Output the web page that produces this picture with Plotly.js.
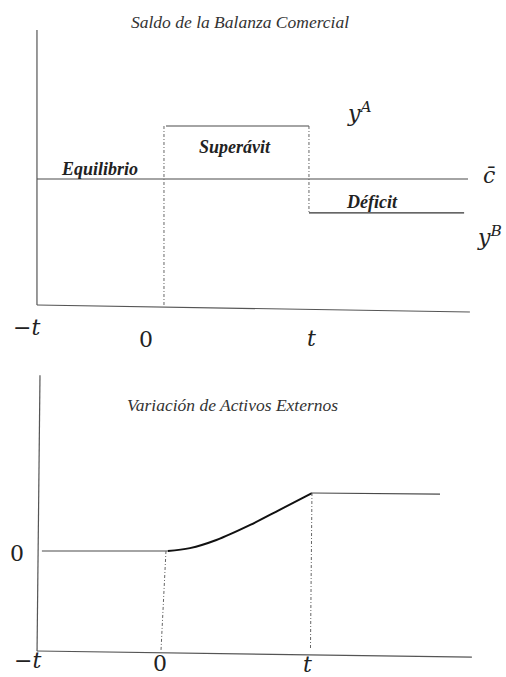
<!DOCTYPE html>
<html>
<head>
<meta charset="utf-8">
<script src="https://cdn.plot.ly/plotly-3.0.1.min.js"></script>
<style>html,body{margin:0;padding:0;background:#fff;}#chart{width:506px;height:677px;}</style>
</head>
<body>
<div id="chart"></div>
<script>
// ---- Data (time units: 0 = shock, 1 = t) ----
// Top chart: Saldo de la Balanza Comercial (c̄ = 0, y^A = 1)
var topAxisVX = [-0.876, -0.876];
var topAxisVY = [2.81, -2.377];
var topAxisHX = [-0.876, 2.11];
var topAxisHY = [-2.377, -2.509];
var cbarX = [-0.876, 2.097];
var cbarY = [0, 0];
var superavitX = [0.014, 1.0];
var superavitY = [1, 1];
var deficitX = [1.0, 2.07];
var deficitY = [-0.64, -0.64];
var dot0TopX = [0, 0];
var dot0TopY = [1, -2.377];
var dotTTopX = [1, 1];
var dotTTopY = [1, -0.64];

// Bottom chart: Variación de Activos Externos (0 before, 1 after t)
var botAxisVX = [-0.85, -0.87];
var botAxisVY = [3.03, -1.724];
var botAxisHX = [-0.871, 2.088];
var botAxisHY = [-1.724, -1.828];
var zeroX = [-0.837, 0.02];
var zeroY = [0, 0];
var curveX = [0.02, 0.17, 0.35, 0.58, 0.78, 1.0];
var curveY = [0, 0.05, 0.19, 0.45, 0.71, 1.0];
var plateauX = [1.0, 1.871];
var plateauY = [1.0, 0.98];
var dot0BotX = [0.007, -0.027];
var dot0BotY = [0, -1.724];
var dotTBotX = [1.0, 0.99];
var dotTBotY = [1.0, -1.69];

var axisColor = '#555';
var lineColor = '#4a4a4a';
var dotColor = '#666';

function seg(x, y, xa, ya, color, width, dash) {
  return {x: x, y: y, xaxis: xa, yaxis: ya, mode: 'lines', type: 'scatter',
    line: {color: color, width: width, dash: dash || 'solid'}, hoverinfo: 'skip', showlegend: false};
}

var traces = [
  seg(topAxisVX, topAxisVY, 'x', 'y', axisColor, 1.2),
  seg(topAxisHX, topAxisHY, 'x', 'y', axisColor, 1.2),
  seg(cbarX, cbarY, 'x', 'y', lineColor, 1.2),
  seg(superavitX, superavitY, 'x', 'y', lineColor, 1.2),
  seg(deficitX, deficitY, 'x', 'y', '#333', 1.2),
  seg(dot0TopX, dot0TopY, 'x', 'y', dotColor, 1, '3px,2px,1px,2px'),
  seg(dotTTopX, dotTTopY, 'x', 'y', dotColor, 1, '3px,2px,1px,2px'),
  seg(botAxisVX, botAxisVY, 'x2', 'y2', axisColor, 1.2),
  seg(botAxisHX, botAxisHY, 'x2', 'y2', axisColor, 1.2),
  seg(zeroX, zeroY, 'x2', 'y2', lineColor, 1.2),
  Object.assign(seg(curveX, curveY, 'x2', 'y2', '#111', 2), {line: {color: '#111', width: 2, shape: 'spline', smoothing: 1}}),
  seg(plateauX, plateauY, 'x2', 'y2', lineColor, 1.2),
  seg(dot0BotX, dot0BotY, 'x2', 'y2', dotColor, 1, '3px,2px,1px,2px'),
  seg(dotTBotX, dotTBotY, 'x2', 'y2', dotColor, 1, '3px,2px,1px,2px')
];

var W = 506, H = 677;
function ann(text, px, py, font) {
  return {text: text, x: px / W, y: 1 - py / H, xref: 'paper', yref: 'paper',
    xanchor: 'center', yanchor: 'middle', showarrow: false, font: font};
}
var titleFont = {family: 'Liberation Serif', size: 17.5, color: '#333', style: 'italic'};
var labelFont = {family: 'Liberation Serif', size: 18, color: '#222', weight: 'bold', style: 'italic'};
var mathFont = {family: 'DejaVu Serif', size: 22, color: '#222'};

var annotations = [
  ann('Saldo de la Balanza Comercial', 240, 22, titleFont),
  ann('Equilibrio', 99, 169, labelFont),
  ann('Superávit', 235, 147, labelFont),
  ann('Déficit', 372, 202, labelFont),
  ann('<i>y</i><sup><i>A</i></sup>', 359, 112, mathFont),
  ann('<i>c\u0304</i>', 489, 176, mathFont),
  ann('<i>y</i><sup><i>B</i></sup>', 489, 236, mathFont),
  ann('\u2212<i>t</i>', 26, 327, mathFont),
  ann('0', 146, 339, mathFont),
  ann('<i>t</i>', 311, 338, mathFont),
  ann('Variación de Activos Externos', 232, 405, titleFont),
  ann('0', 17, 553, mathFont),
  ann('\u2212<i>t</i>', 27, 660, mathFont),
  ann('0', 160, 663, mathFont),
  ann('<i>t</i>', 307, 664, mathFont)
];

var hidden = {visible: false, showgrid: false, zeroline: false, fixedrange: true};
var layout = {
  width: W, height: H,
  margin: {l: 0, r: 0, t: 0, b: 0},
  paper_bgcolor: '#fff', plot_bgcolor: 'rgba(0,0,0,0)',
  xaxis: Object.assign({}, hidden, {domain: [0, 1], range: [-1.131, 2.359], anchor: 'y'}),
  yaxis: Object.assign({}, hidden, {domain: [0.5, 1], range: [-3.009, 3.377], anchor: 'x'}),
  xaxis2: Object.assign({}, hidden, {domain: [0, 1], range: [-1.122, 2.320], anchor: 'y2'}),
  yaxis2: Object.assign({}, hidden, {domain: [0, 0.5], range: [-2.172, 3.664], anchor: 'x2'}),
  annotations: annotations,
  showlegend: false
};

Plotly.newPlot('chart', traces, layout, {displayModeBar: false, staticPlot: true});
</script>
</body>
</html>
